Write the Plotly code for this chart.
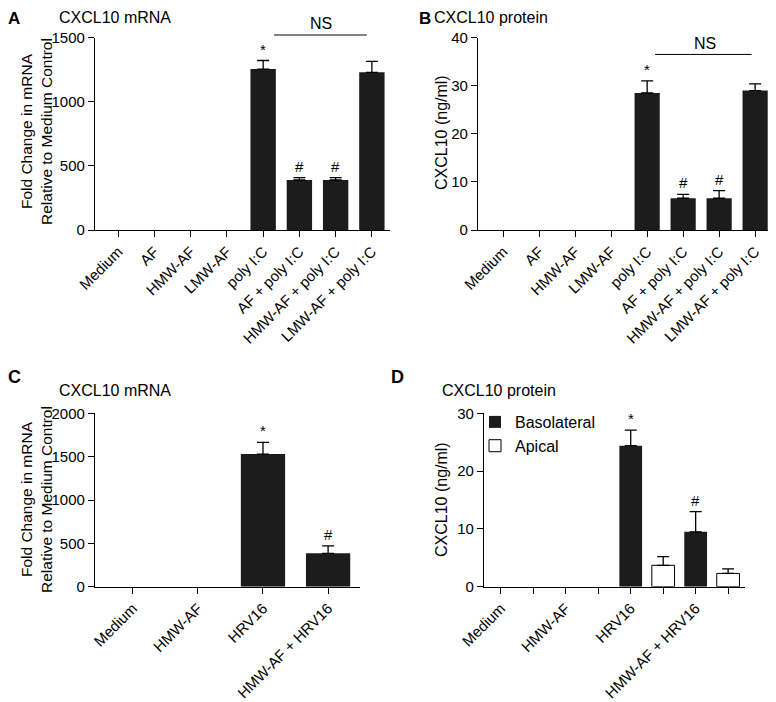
import plotly.graph_objects as go

# ---------------- data ----------------
cats_ab = ["Medium", "AF", "HMW-AF", "LMW-AF", "poly I:C",
           "AF + poly I:C", "HMW-AF + poly I:C", "LMW-AF + poly I:C"]
a_mean = [0, 0, 0, 0, 1255, 390, 390, 1230]
a_upper = [0, 0, 0, 0, 1322, 408, 408, 1315]
b_mean = [0, 0, 0, 0, 28.5, 6.6, 6.6, 29.0]
b_upper = [0, 0, 0, 0, 31.0, 7.4, 8.2, 30.4]

cats_c = ["Medium", "HMW-AF", "HRV16", "HMW-AF + HRV16"]
c_mean = [0, 0, 1530, 385]
c_upper = [0, 0, 1665, 470]

d_groups = ["Medium", "HMW-AF", "HRV16", "HMW-AF + HRV16"]
d_baso = [0, 0, 24.4, 9.5]
d_baso_upper = [0, 0, 27.1, 13.0]
d_apical = [0, 0, 3.7, 2.3]
d_apical_upper = [0, 0, 5.2, 3.1]

# page is 776x702; the browser body has an 8px margin, so the figure is 768x694
OFF = 8
W, H = 776 - OFF, 702 - OFF
FONT = "Liberation Sans, Arial, Helvetica, sans-serif"
BAR = "#1c1c1c"


def px(x):
    return max(0.0, (x - OFF) / W)


def py(y):
    return 1 - (y - OFF) / H


fig = go.Figure()


def add_bars(x, mean, upper, xa, ya, color, name=None, legend=False, width=0.7,
             drop_zero=False):
    keep = [i for i in range(len(mean)) if (mean[i] > 0 or not drop_zero)]
    fig.add_trace(go.Bar(x=[x[i] for i in keep], y=[mean[i] for i in keep], name=name,
                         marker=dict(color=color,
                                     line=dict(color="black",
                                               width=1 if color == "white" else 0)),
                         width=width, xaxis=xa, yaxis=ya, showlegend=legend))
    # error bars (upper only) for non-zero groups
    sel = [i for i in range(len(mean)) if mean[i] > 0]
    fig.add_trace(go.Scatter(
        x=[x[i] for i in sel], y=[mean[i] for i in sel], mode="markers",
        marker=dict(size=1, opacity=0), hoverinfo="skip", showlegend=False,
        error_y=dict(type="data", symmetric=False,
                     array=[upper[i] - mean[i] for i in sel],
                     arrayminus=[0] * len(sel),
                     color="black", thickness=1.3, width=6),
        xaxis=xa, yaxis=ya))


add_bars(cats_ab, a_mean, a_upper, "x", "y", BAR)
add_bars(cats_ab, b_mean, b_upper, "x2", "y2", BAR)
add_bars(cats_c, c_mean, c_upper, "x3", "y3", BAR, width=0.68)
d_x_baso = [2 * i for i in range(len(d_groups))]
d_x_ap = [2 * i + 1 for i in range(len(d_groups))]
add_bars(d_x_baso, d_baso, d_baso_upper, "x4", "y4", BAR, name="Basolateral", legend=True,
         drop_zero=True)
add_bars(d_x_ap, d_apical, d_apical_upper, "x4", "y4", "white", name="Apical", legend=True,
         drop_zero=True)

axis_common = dict(showline=True, linecolor="black", linewidth=1.3, ticks="outside",
                   ticklen=6, tickwidth=1.3, tickcolor="black", showgrid=False,
                   zeroline=False, automargin=False,
                   tickfont=dict(family=FONT, size=15, color="black"))

xa = dict(axis_common, tickangle=-45)

fig.update_layout(
    template="none",
    width=W, height=H,
    margin=dict(l=0, r=0, t=0, b=0, autoexpand=False),
    plot_bgcolor="white", paper_bgcolor="white",
    font=dict(family=FONT, size=15, color="black"),
    barmode="overlay",
    xaxis=dict(xa, domain=[px(95), px(390)], range=[-0.64, 7.5], anchor="y",
               type="category"),
    yaxis=dict(axis_common, domain=[py(230), py(37.7)], range=[0, 1500], anchor="x",
               tickvals=[0, 500, 1000, 1500]),
    xaxis2=dict(xa, domain=[px(478), px(776)], range=[-0.7, 7.58], anchor="y2",
                type="category"),
    yaxis2=dict(axis_common, domain=[py(230), py(37.7)], range=[0, 40], anchor="x2",
                tickvals=[0, 10, 20, 30, 40]),
    xaxis3=dict(xa, domain=[px(95), px(360)], range=[-0.58, 3.49], anchor="y3",
                type="category"),
    yaxis3=dict(axis_common, domain=[py(586.7), py(413.3)], range=[0, 2000], anchor="x3",
                tickvals=[0, 500, 1000, 1500, 2000]),
    xaxis4=dict(xa, domain=[px(484), px(745)], range=[-0.52, 7.52], anchor="y4",
                tickvals=list(range(8)),
                ticktext=[d_groups[i // 2] if i % 2 == 0 else "" for i in range(8)]),
    yaxis4=dict(axis_common, domain=[py(586.7), py(413.3)], range=[0, 30], anchor="x4",
                tickvals=[0, 10, 20, 30]),
    legend=dict(x=px(475), y=py(405), xanchor="left", yanchor="top",
                bgcolor="rgba(0,0,0,0)", font=dict(family=FONT, size=16, color="black"),
                tracegroupgap=0, itemwidth=30),
)

annotations = []


def ptext(text, x, y, size=16, angle=0, xanchor="left"):
    return dict(text=text, x=px(x), y=py(y), xref="paper", yref="paper",
                xanchor=xanchor, yanchor="middle", showarrow=False, textangle=angle,
                borderpad=0, borderwidth=0,
                font=dict(family=FONT, size=size, color="black"))


# panel letters and titles
for letter, lx, ly, ls, title, tx, ty in [
    ("A", 8, 19, 17, "CXCL10 mRNA", 59, 17),
    ("B", 419, 19, 17, "CXCL10 protein", 434, 17),
    ("C", 8, 377, 18, "CXCL10 mRNA", 59, 390),
    ("D", 391, 377, 18, "CXCL10 protein", 442, 390),
]:
    annotations.append(ptext("<b>%s</b>" % letter, lx, ly, size=ls))
    annotations.append(ptext(title, tx, ty, size=16))

# y-axis titles
ytitle_mrna = "Fold Change in mRNA<br>Relative to Medium Control"
annotations.append(ptext(ytitle_mrna, 36, 132, size=15.5, angle=-90, xanchor="center"))
annotations.append(ptext(ytitle_mrna, 36, 500, size=15.5, angle=-90, xanchor="center"))
annotations.append(ptext("CXCL10 (ng/ml)", 442, 133, angle=-90, xanchor="center"))
annotations.append(ptext("CXCL10 (ng/ml)", 441, 500, angle=-90, xanchor="center"))


def mark(text, xref, yref, x, y):
    return dict(text=text, x=x, y=y, xref=xref, yref=yref, xanchor="center",
                yanchor="bottom", showarrow=False, yshift=1,
                font=dict(family=FONT, size=15, color="black"))


# significance marks
annotations.append(mark("*", "x", "y", cats_ab[4], a_upper[4]))
annotations.append(mark("#", "x", "y", cats_ab[5], a_upper[5]))
annotations.append(mark("#", "x", "y", cats_ab[6], a_upper[6]))
annotations.append(mark("*", "x2", "y2", cats_ab[4], b_upper[4]))
annotations.append(mark("#", "x2", "y2", cats_ab[5], b_upper[5]))
annotations.append(mark("#", "x2", "y2", cats_ab[6], b_upper[6]))
annotations.append(mark("*", "x3", "y3", cats_c[2], c_upper[2]))
annotations.append(mark("#", "x3", "y3", cats_c[3], c_upper[3]))
annotations.append(mark("*", "x4", "y4", d_x_baso[2], d_baso_upper[2]))
annotations.append(mark("#", "x4", "y4", d_x_baso[3], d_baso_upper[3]))

# NS brackets
annotations.append(dict(text="NS", x=5.6, y=1.02, xref="x", yref="y domain",
                        xanchor="center", yanchor="bottom", showarrow=False,
                        font=dict(family=FONT, size=16, color="black")))
annotations.append(dict(text="NS", x=5.6, y=0.915, xref="x2", yref="y2 domain",
                        xanchor="center", yanchor="bottom", showarrow=False,
                        font=dict(family=FONT, size=16, color="black")))
fig.update_layout(annotations=annotations)

fig.add_shape(type="line", xref="x", yref="y domain", x0=4.3, x1=6.86, y0=1.014, y1=1.014,
              line=dict(color="black", width=1))
fig.add_shape(type="line", xref="x2", yref="y2 domain", x0=4.22, x1=6.9, y0=0.913, y1=0.913,
              line=dict(color="black", width=1))

fig.write_html("out.html")
